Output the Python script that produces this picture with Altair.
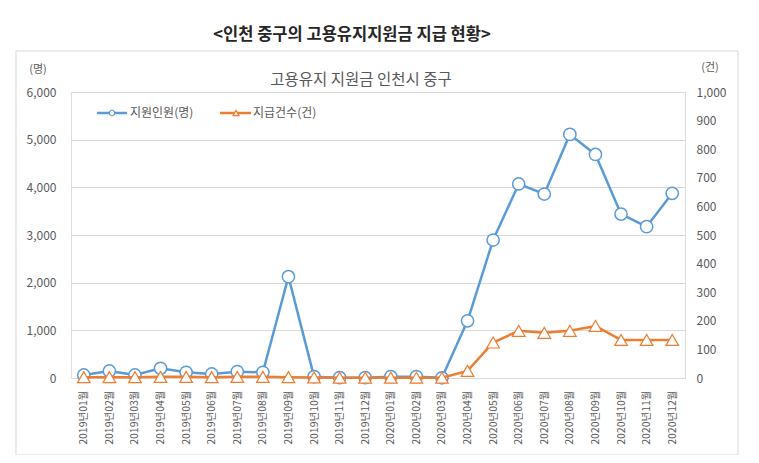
import altair as alt
import pandas as pd

months = ["2019년01월", "2019년02월", "2019년03월", "2019년04월", "2019년05월", "2019년06월",
          "2019년07월", "2019년08월", "2019년09월", "2019년10월", "2019년11월", "2019년12월",
          "2020년01월", "2020년02월", "2020년03월", "2020년04월", "2020년05월", "2020년06월",
          "2020년07월", "2020년08월", "2020년09월", "2020년10월", "2020년11월", "2020년12월"]
persons = [63, 147, 63, 203, 119, 84, 133, 119, 2125, 28, 7, 7,
           28, 28, 5, 1200, 2895, 4070, 3860, 5110, 4690, 3440, 3175, 3875]
cases = [3, 3, 3, 4, 4, 3, 4, 4, 3, 2, 1, 1,
         1, 1, 1, 25, 124, 165, 158, 165, 182, 133, 133, 133]
left_ticks = [0, 1000, 2000, 3000, 4000, 5000, 6000]
right_ticks = [0, 100, 200, 300, 400, 500, 600, 700, 800, 900, 1000]

df = pd.DataFrame({"month": months, "persons": persons, "cases": cases})
one = pd.DataFrame({"a": [0]})

FONT = "Noto Sans CJK KR"
GRAY = "#595959"
GRID = "#d9d9d9"
BLUE = "#5b9bd5"
ORANGE = "#ed7d31"

base = alt.Chart(df)
x = alt.X("month:N", sort=months,
          scale=alt.Scale(type="point", padding=0.5),
          axis=alt.Axis(title=None, labelAngle=270, ticks=False, domainColor=GRID,
                        labelPadding=12, labelColor=GRAY, labelFontSize=10.5, labelFont=FONT))

yL = alt.Y("persons:Q", scale=alt.Scale(domain=[0, 6000], nice=False),
           axis=alt.Axis(orient="left", values=left_ticks, format=",.0f", title=None,
                         domain=False, ticks=False, labelPadding=15, labelColor=GRAY,
                         labelFontSize=12, labelFont=FONT, grid=True, gridColor=GRID))
yR = alt.Y("cases:Q", scale=alt.Scale(domain=[0, 1000], nice=False),
           axis=alt.Axis(orient="right", values=right_ticks, format=",.0f", title=None,
                         domain=False, ticks=False, labelPadding=11, labelColor=GRAY,
                         labelFontSize=12, labelFont=FONT, grid=False))

blue = alt.layer(
    base.mark_line(color=BLUE, strokeWidth=2.5).encode(x=x, y=yL),
    base.mark_point(shape="circle", filled=True, fill="white", stroke=BLUE,
                    strokeWidth=1.5, size=150, opacity=1).encode(x=x, y=yL),
)
orange = alt.layer(
    base.mark_line(color=ORANGE, strokeWidth=2.5).encode(x=x, y=yR),
    base.mark_point(shape="triangle-up", filled=True, fill="white", stroke=ORANGE,
                    strokeWidth=1.2, size=160, opacity=1).encode(x=x, y=yR),
)

deco = alt.Chart(one)
frame = deco.mark_rect(fillOpacity=0, stroke=GRID, strokeWidth=1).encode(
    x=alt.value(-55), x2=alt.value(667), y=alt.value(-41), y2=alt.value(363))

def txt(s, xv, yv, size, color=GRAY, weight="normal", align="center"):
    return deco.mark_text(text=s, font=FONT, fontSize=size, color=color,
                          fontWeight=weight, align=align, baseline="middle").encode(
        x=alt.value(xv), y=alt.value(yv))

main_title = txt("<인천 중구의 고용유지지원금 지급 현황>", 281, -57, 16.5, color="#262626", weight="bold")
sub_title = txt("고용유지 지원금 인천시 중구", 290, -12, 15.5)
unit_l = txt("(명)", -33, -22, 11)
unit_r = txt("(건)", 639, -24, 11)

leg_blue_line = deco.mark_rule(color=BLUE, strokeWidth=2.5).encode(
    x=alt.value(26), x2=alt.value(56), y=alt.value(21))
leg_blue_pt = deco.mark_point(shape="circle", filled=True, fill="white", stroke=BLUE,
                              strokeWidth=1.2, size=30, opacity=1).encode(
    x=alt.value(41), y=alt.value(21))
leg_blue_txt = txt("지원인원(명)", 59, 21, 12, align="left")
leg_or_line = deco.mark_rule(color=ORANGE, strokeWidth=2.5).encode(
    x=alt.value(149), x2=alt.value(180), y=alt.value(21))
leg_or_pt = deco.mark_point(shape="triangle-up", filled=True, fill="white", stroke=ORANGE,
                            strokeWidth=1.2, size=36, opacity=1).encode(
    x=alt.value(165), y=alt.value(21))
leg_or_txt = txt("지급건수(건)", 182, 21, 12, align="left")

chart = alt.layer(
    frame, blue, orange, main_title, sub_title, unit_l, unit_r,
    leg_blue_line, leg_blue_pt, leg_blue_txt, leg_or_line, leg_or_pt, leg_or_txt,
).resolve_scale(y="independent").properties(
    width=614, height=286,
    autosize=alt.AutoSizeParams(type="none"),
    padding={"left": 63, "top": 84, "right": 66, "bottom": 77},
).configure_view(stroke=None).configure(font=FONT)

chart.save("out.html", embed_options={"renderer": "svg", "actions": False})
